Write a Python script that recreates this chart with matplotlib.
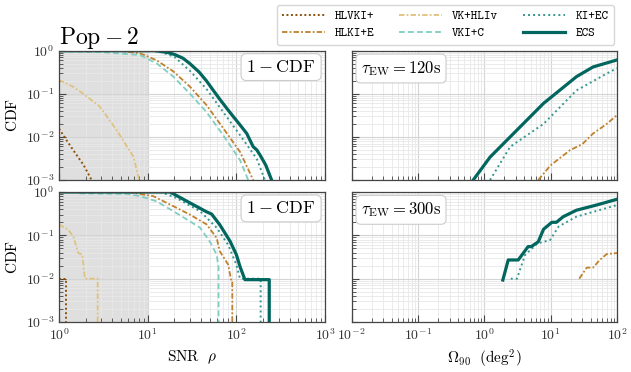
import numpy as np
import matplotlib
matplotlib.use("Agg")
import matplotlib.pyplot as plt

plt.rcParams["mathtext.fontset"] = "cm"
plt.rcParams["font.family"] = "serif"
plt.rcParams["font.serif"] = ["cmr10"]
plt.rcParams["axes.formatter.use_mathtext"] = True

# ---- data ----
labels = ["HLVKI+", "HLKI+E", "VK+HLIv", "VKI+C", "KI+EC", "ECS"]
colors = ["#8c510a", "#bf812d", "#dfc27d", "#80cdc1", "#35978f", "#01665e"]
dashes = [(1, 1.3), (3, 1.2, 1, 1.2), (3, 1.2, 1, 1.2), (3.2, 1.8), (1, 1.6), None]
widths = [1.4, 1.3, 1.3, 1.3, 1.4, 2.3]

# 1 - CDF of SNR, tau_EW = 120 s
snr120_x = {
    "HLVKI+": [1, 1.22, 1.45, 1.9, 2.33],
    "HLKI+E": [1, 5, 8.2, 12.6, 19.5, 30, 46, 71, 110, 155],
    "VK+HLIv": [1, 1.45, 1.88, 2.9, 4.47, 6.9, 8.0],
    "VKI+C": [1, 3, 8.2, 12.6, 19.5, 30, 46, 71, 110, 136],
    "KI+EC": [1, 10, 13.8, 20, 30, 46, 71, 110, 170, 210],
    "ECS": [1, 12, 16.4, 20, 25, 30, 38, 46, 55, 65, 80, 92, 110, 131, 155, 170, 185, 215, 250],
}
snr120_y = {
    "HLVKI+": [0.0156, 0.0083, 0.0049, 0.0022, 0.001],
    "HLKI+E": [1, 0.98, 0.87, 0.6, 0.33, 0.146, 0.055, 0.016, 0.0045, 0.001],
    "VK+HLIv": [0.21, 0.145, 0.10, 0.05, 0.0143, 0.0035, 0.001],
    "VKI+C": [0.96, 0.93, 0.79, 0.51, 0.25, 0.10, 0.038, 0.011, 0.0029, 0.001],
    "KI+EC": [1, 1, 0.95, 0.72, 0.34, 0.13, 0.038, 0.011, 0.0031, 0.001],
    "ECS": [1, 1, 0.92, 0.82, 0.67, 0.5, 0.32, 0.2, 0.12, 0.075, 0.043, 0.03, 0.019, 0.012, 0.0059, 0.005, 0.0038, 0.0022, 0.001],
}

# 1 - CDF of SNR, tau_EW = 300 s
snr300_x = {
    "HLVKI+": [1, 1.2, 1.2],
    "HLKI+E": [1, 6, 11.6, 19.5, 30, 46, 60, 65, 81, 88, 90, 90],
    "VK+HLIv": [1.0, 1.27, 1.45, 1.65, 1.83, 1.96, 2.73, 2.73],
    "VKI+C": [1.7, 6, 8.2, 12.6, 19.5, 30, 39, 50, 60, 63, 63],
    "KI+EC": [1, 14, 21, 39, 60, 81, 100, 110, 188, 188],
    "ECS": [1, 10, 17.9, 30, 46, 52.6, 65, 85, 100, 110, 125, 235, 235],
}
snr300_y = {
    "HLVKI+": [0.01, 0.01, 1e-4],
    "HLKI+E": [1, 1, 0.8, 0.47, 0.30, 0.18, 0.087, 0.043, 0.021, 0.0087, 0.0087, 1e-4],
    "VK+HLIv": [0.177, 0.135, 0.095, 0.039, 0.036, 0.01, 0.01, 1e-4],
    "VKI+C": [0.93, 0.9, 0.8, 0.61, 0.36, 0.21, 0.15, 0.073, 0.036, 0.018, 1e-4],
    "KI+EC": [1, 1, 0.73, 0.36, 0.15, 0.06, 0.021, 0.01, 0.01, 1e-4],
    "ECS": [1, 1, 1, 0.56, 0.35, 0.31, 0.176, 0.073, 0.036, 0.019, 0.0095, 0.0095, 1e-4],
}

# CDF of sky area Omega_90
om120_x = {
    "HLKI+E": [6.5, 10, 19.5, 30, 43.6, 70, 100],
    "KI+EC": [1.22, 2.45, 7.8, 24.5, 80, 100],
    "ECS": [0.68, 1.22, 2.45, 7.8, 24.5, 43.6, 100],
}
om120_y = {
    "HLKI+E": [0.001, 0.0022, 0.0049, 0.0068, 0.012, 0.02, 0.032],
    "KI+EC": [0.001, 0.0059, 0.02, 0.12, 0.33, 0.39],
    "ECS": [0.001, 0.0034, 0.01, 0.06, 0.25, 0.42, 0.61],
}
om300_x = {
    "HLKI+E": [27, 35, 43.6, 55, 70, 100],
    "KI+EC": [2.5, 3.1, 4.1, 6.3, 9.8, 13.2, 24.5, 100],
    "ECS": [1.9, 2.29, 3.24, 4.57, 5.1, 6.5, 7.8, 10.4, 12.2, 15.5, 24.5, 49, 100],
}
om300_y = {
    "HLKI+E": [0.01, 0.018, 0.018, 0.027, 0.037, 0.039],
    "KI+EC": [0.01, 0.01, 0.035, 0.065, 0.078, 0.16, 0.27, 0.5],
    "ECS": [0.0093, 0.027, 0.027, 0.055, 0.055, 0.071, 0.138, 0.2, 0.2, 0.27, 0.38, 0.5, 0.68],
}

W, H = 631, 372
fig = plt.figure(figsize=(W / 100, H / 100), dpi=100)


def box(x0, y0, x1, y1):
    return [x0 / W, 1 - y1 / H, (x1 - x0) / W, (y1 - y0) / H]


ax_tl = fig.add_axes(box(59, 50.7, 325, 180))
ax_tr = fig.add_axes(box(351.7, 50.7, 617, 180))
ax_bl = fig.add_axes(box(59, 192, 325, 322))
ax_br = fig.add_axes(box(351.7, 192, 617, 322))


def style(ax, xlim):
    ax.set_xscale("log")
    ax.set_yscale("log")
    ax.set_xlim(*xlim)
    ax.set_ylim(1e-3, 1)
    ax.grid(True, which="major", color="#d4d4d4", lw=0.8)
    ax.grid(True, which="minor", color="#e8e8e8", lw=0.6)
    ax.set_axisbelow(True)
    ax.tick_params(which="both", direction="in", colors="#444444", labelsize=10,
                   top=False, right=False)
    ax.tick_params(which="major", length=5, labelcolor="#333333")
    ax.tick_params(which="minor", length=3)
    for s in ax.spines.values():
        s.set_color("#444444")
        s.set_linewidth(0.9)


def draw(ax, xs, ys):
    for lab, c, d, lw in zip(labels, colors, dashes, widths):
        if lab in xs:
            line, = ax.plot(xs[lab], ys[lab], color=c, lw=lw, label=lab)
            if d is not None:
                line.set_dashes(d)


for ax, xs, ys in [(ax_tl, snr120_x, snr120_y), (ax_bl, snr300_x, snr300_y)]:
    style(ax, (1, 1e3))
    ax.axvspan(1, 10, color="gray", alpha=0.25, lw=0, zorder=0.5)
    draw(ax, xs, ys)
    ax.set_ylabel(r"$\mathrm{CDF}$", fontsize=11)
    ax.text(0.965, 0.935, r"$1-\mathrm{CDF}$", transform=ax.transAxes, ha="right",
            va="top", fontsize=13,
            bbox=dict(boxstyle="round,pad=0.3", fc="white", ec="#cccccc", lw=0.8))

for ax, xs, ys, t in [(ax_tr, om120_x, om120_y, "120"), (ax_br, om300_x, om300_y, "300")]:
    style(ax, (1e-2, 1e2))
    draw(ax, xs, ys)
    ax.tick_params(labelleft=False)
    ax.text(0.035, 0.935, r"$\tau_{\rm EW}=%s{\rm s}$" % t, transform=ax.transAxes,
            ha="left", va="top", fontsize=12,
            bbox=dict(boxstyle="round,pad=0.3", fc="white", ec="#cccccc", lw=0.8))

ax_tl.tick_params(labelbottom=False)
ax_tr.tick_params(labelbottom=False)
ax_bl.set_xlabel(r"$\mathrm{SNR}\ \ \rho$", fontsize=11)
ax_br.set_xlabel(r"$\Omega_{90}\ \ (\mathrm{deg}^2)$", fontsize=11)

fig.text(59 / W, 1 - 44 / H, r"$\mathrm{Pop}-2$", fontsize=17, ha="left", va="baseline")

handles, labs = ax_tl.get_legend_handles_labels()
fig.legend(handles, labs, ncol=3, loc="upper right", bbox_to_anchor=(614 / W, 1 - 5 / H),
           borderaxespad=0, prop={"family": "cmtt10", "size": 9}, handlelength=3.4,
           columnspacing=2.0, labelspacing=0.4, borderpad=0.45, edgecolor="#cccccc",
           fancybox=True)

fig.savefig("out.png", dpi=100)
